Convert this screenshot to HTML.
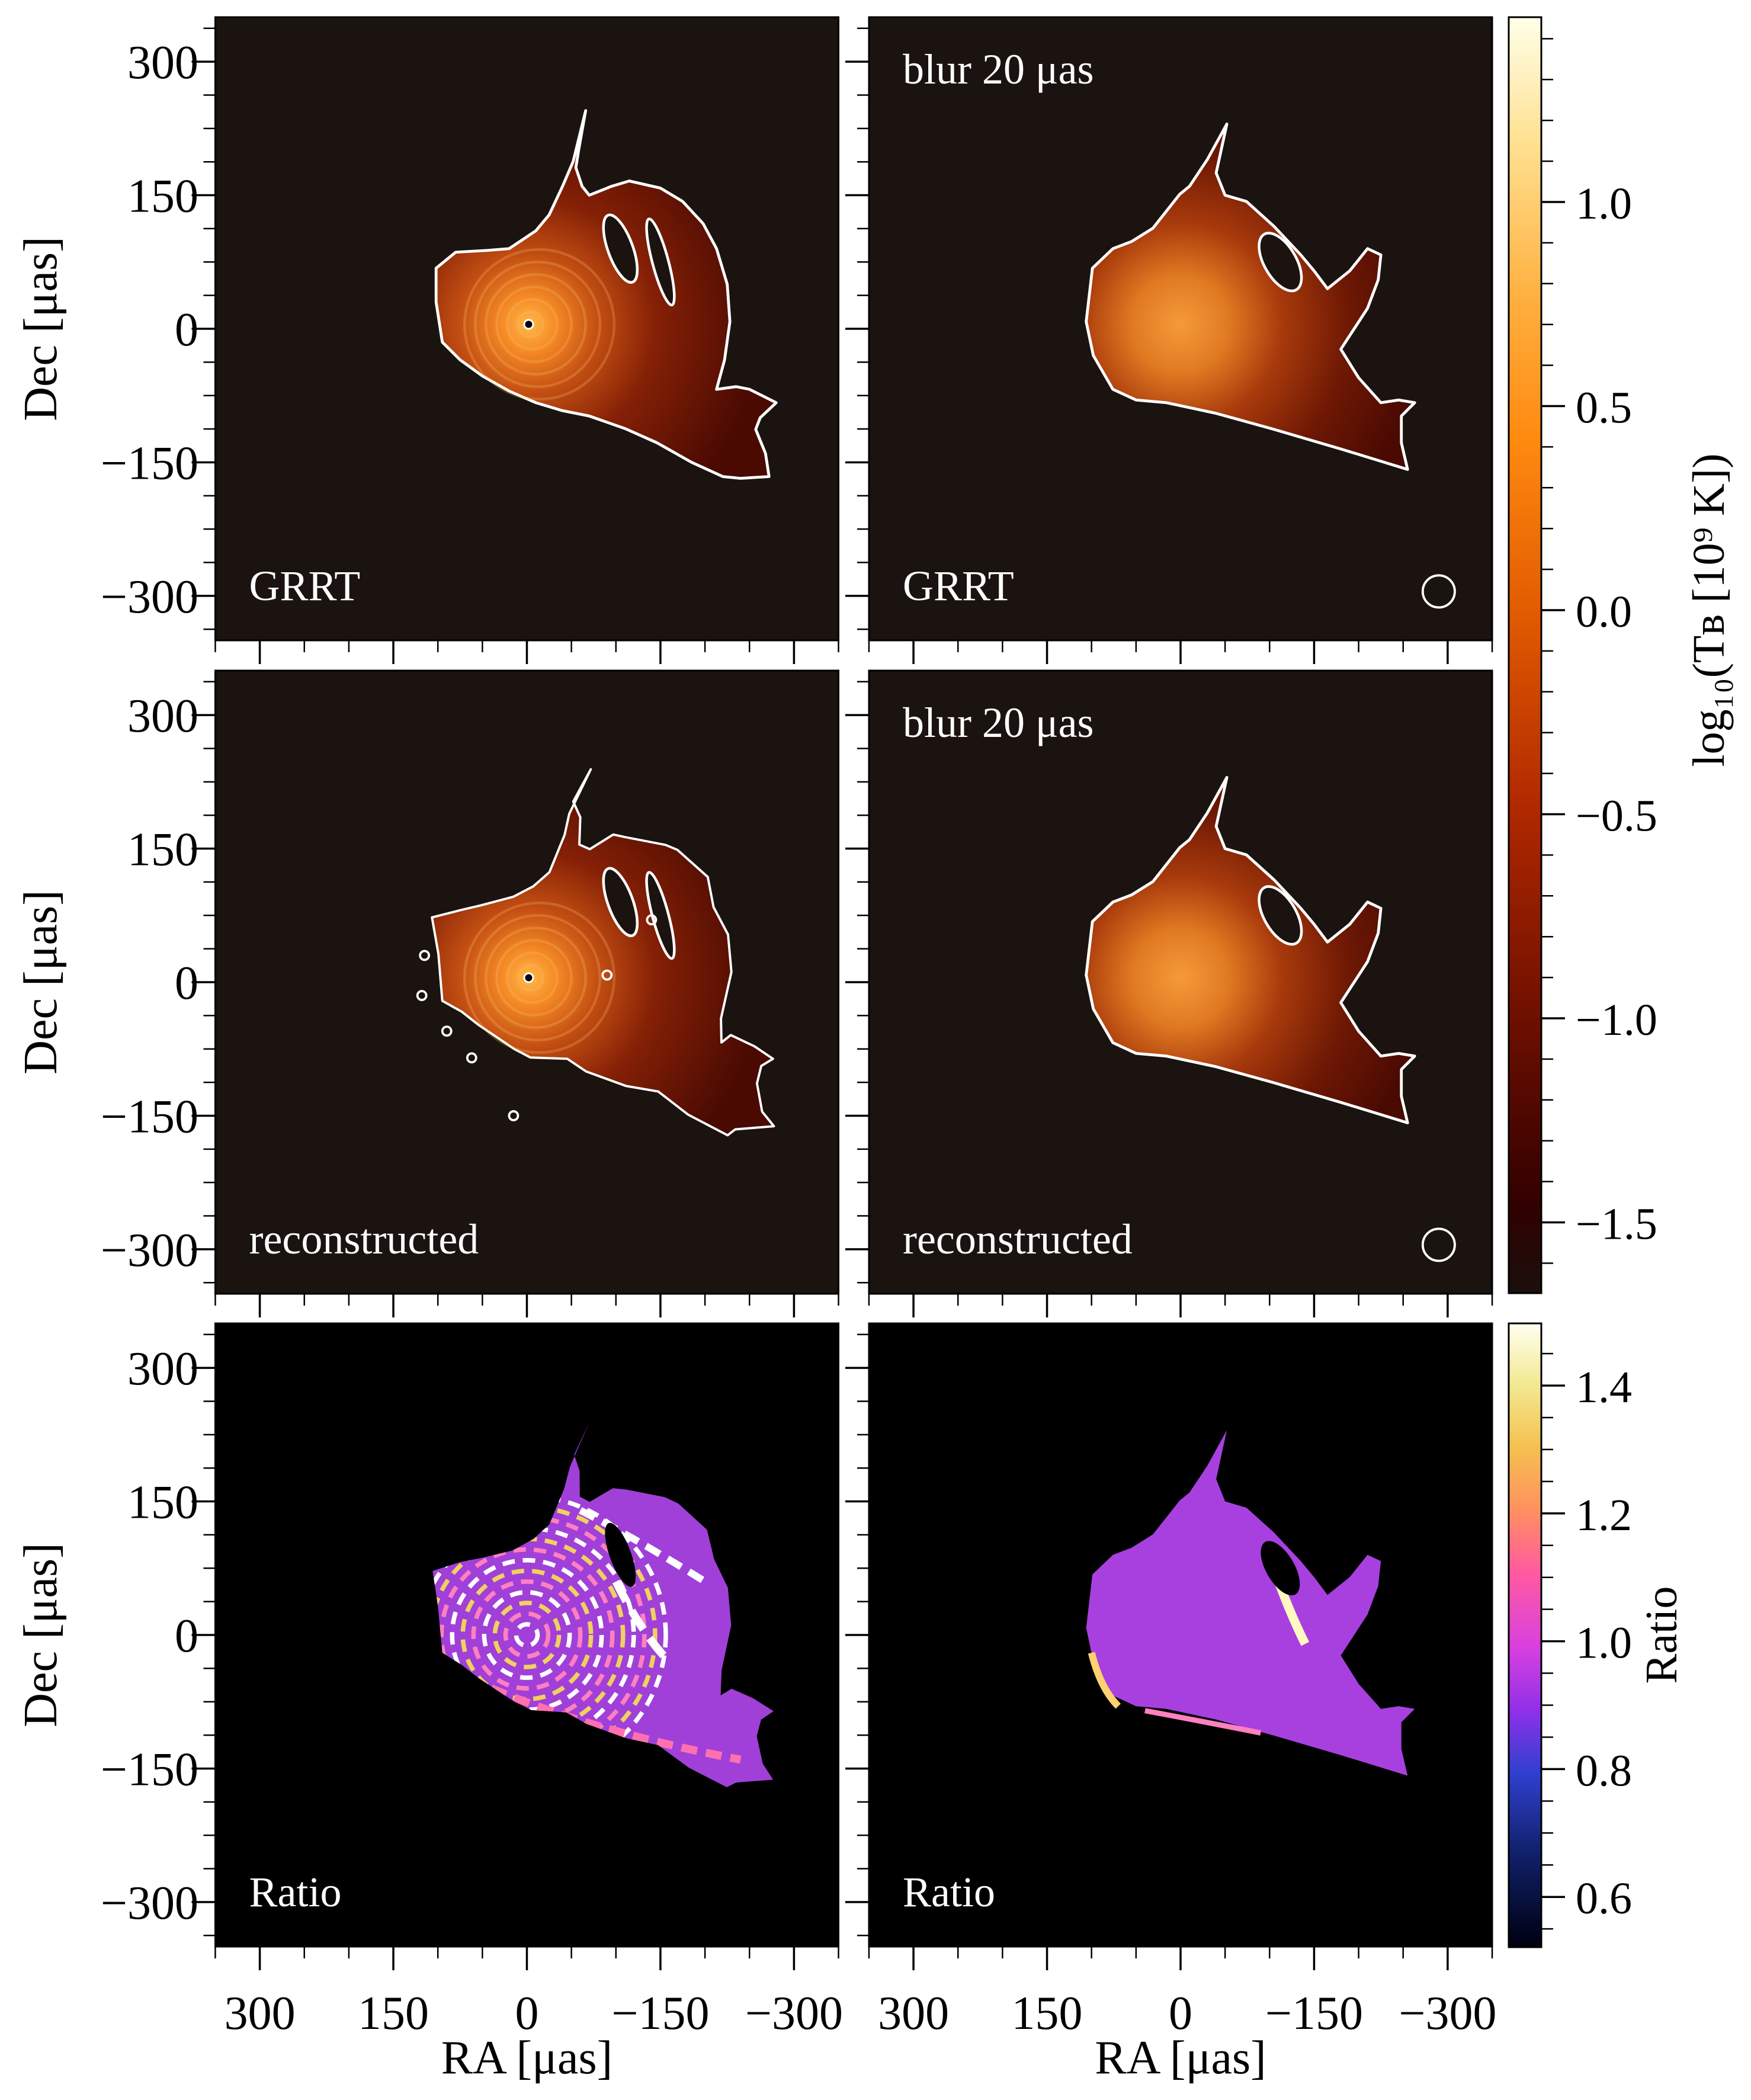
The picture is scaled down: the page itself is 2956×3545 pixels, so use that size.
<!DOCTYPE html>
<html><head><meta charset="utf-8">
<style>
html,body{margin:0;padding:0;background:#fff;}
svg{display:block;}
text{font-family:"Liberation Serif","DejaVu Serif",serif;fill:#000;}
</style></head>
<body>
<svg id="s" width="2956" height="3545" viewBox="0 0 2956 3545" xmlns="http://www.w3.org/2000/svg">
<defs>
<radialGradient id="gA" gradientUnits="userSpaceOnUse" cx="2" cy="-5" r="260">
<stop offset="0" stop-color="#ffb848"/><stop offset="0.12" stop-color="#f58a25"/>
<stop offset="0.3" stop-color="#c24e12"/><stop offset="0.55" stop-color="#842006"/>
<stop offset="1" stop-color="#4a0a02"/></radialGradient>
<radialGradient id="gB" gradientUnits="userSpaceOnUse" cx="0" cy="-5" r="270">
<stop offset="0" stop-color="#f59a3a"/><stop offset="0.2" stop-color="#e07a22"/>
<stop offset="0.42" stop-color="#a83a0c"/><stop offset="0.7" stop-color="#6e1804"/>
<stop offset="1" stop-color="#4a0a02"/></radialGradient>
<linearGradient id="cb1" x1="0" y1="0" x2="0" y2="1">
<stop offset="0" stop-color="#ffffe8"/><stop offset="0.1" stop-color="#ffe090"/>
<stop offset="0.22" stop-color="#ffb040"/><stop offset="0.33" stop-color="#ff8a10"/>
<stop offset="0.47" stop-color="#e05a00"/><stop offset="0.62" stop-color="#b02800"/>
<stop offset="0.78" stop-color="#701000"/><stop offset="0.93" stop-color="#320000"/>
<stop offset="1" stop-color="#1a100c"/></linearGradient>
<linearGradient id="cb2" x1="0" y1="0" x2="0" y2="1">
<stop offset="0" stop-color="#fffff0"/><stop offset="0.1" stop-color="#f2e890"/>
<stop offset="0.2" stop-color="#f5c050"/><stop offset="0.3" stop-color="#ff9060"/>
<stop offset="0.4" stop-color="#ff5aa0"/><stop offset="0.52" stop-color="#d840e0"/>
<stop offset="0.62" stop-color="#9030e8"/><stop offset="0.72" stop-color="#3040d0"/>
<stop offset="0.85" stop-color="#10206a"/><stop offset="1" stop-color="#000010"/></linearGradient>
<clipPath id="pc"><rect x="-350" y="-350" width="700" height="700"/></clipPath>
<clipPath id="cA"><path id="cAp"/></clipPath>
</defs>
<g id="root"></g>
</svg>
<script>
var NS="http://www.w3.org/2000/svg",root=document.getElementById('root');
function el(t,a,p,txt){var e=document.createElementNS(NS,t);for(var k in a)e.setAttribute(k,a[k]);if(txt!==undefined)e.textContent=txt;(p||root).appendChild(e);return e;}
function tx(a,s){return el('text',a,null,s);}
var K=1.503;
var cols=[889.5,1993],rows=[555,1658,2760],P=526;
var A=[[-95,15],[-102,-30],[-102,-68],[-80,-86],[-45,-88],[-20,-90],[10,-110],[25,-128],[40,-160],[52,-188],[66,-245],[58,-200],[55,-181],[62,-160],[70,-150],[95,-160],[115,-166],[150,-158],[175,-143],[198,-118],[213,-90],[225,-50],[228,-8],[222,35],[213,68],[235,65],[250,68],[280,83],[262,100],[257,113],[268,140],[272,166],[240,168],[220,166],[185,150],[146,128],[110,112],[70,98],[40,92],[10,83],[-20,70],[-50,53],[-75,35]];
var B=[[-99,-68],[-106,-8],[-98,30],[-76,68],[-50,80],[-16,83],[40,95],[105,113],[180,135],[255,158],[248,128],[248,98],[263,83],[245,80],[225,83],[200,55],[180,23],[195,0],[210,-23],[222,-55],[225,-83],[210,-90],[190,-65],[165,-45],[150,-65],[135,-83],[105,-115],[74,-143],[50,-150],[40,-175],[52,-230],[30,-190],[10,-160],[-1,-151],[-31,-113],[-55,-98],[-76,-90]];
function pth(pts){return 'M'+pts.map(function(p){return p[0]+','+p[1];}).join(' L')+' Z';}
function jit(pts,a){return pts.map(function(p,i){return [p[0]+a*Math.sin(i*2.7),p[1]+a*Math.cos(i*1.9)];});}
document.getElementById('cAp').setAttribute('d',pth(jit(A,5)));
for(var r=0;r<3;r++)for(var c=0;c<2;c++){
 var cx=cols[c],cy=rows[r];
 var bg=r==2?'#000':'#1a1310';
 el('rect',{x:cx-P,y:cy-P,width:2*P,height:2*P,fill:bg});
 var g=el('g',{transform:'translate('+cx+','+cy+') scale('+K+')','clip-path':'url(#pc)'});
 if(r<2){
  if(c==0){
   var pts=r==0?A:jit(A,6);
   el('path',{d:pth(pts),fill:'url(#gA)',stroke:'#fff','stroke-width':r==0?3.2:2.6,'stroke-linejoin':'round'},g);
   for(var i=1;i<7;i++)el('circle',{cx:2+i*2,cy:-5,r:i*14,fill:'none',stroke:'#ffc070','stroke-opacity':0.25,'stroke-width':3},g);
   el('ellipse',{cx:105,cy:-90,rx:14,ry:40,transform:'rotate(-20 105 -90)',fill:'#1a1310',stroke:'#fff','stroke-width':3},g);
   el('ellipse',{cx:150,cy:-75,rx:9,ry:50,transform:'rotate(-15 150 -75)',fill:'#1a1310',stroke:'#fff','stroke-width':3},g);
   el('circle',{cx:2,cy:-5,r:5,fill:'#000',stroke:'#fff','stroke-width':2},g);
   if(r==1){[[-115,-30],[-118,15],[-90,55],[-62,85],[-15,150],[90,-8],[140,-70]].forEach(function(p){el('circle',{cx:p[0],cy:p[1],r:5,fill:'none',stroke:'#fff','stroke-width':2.5},g);});}
  }else{
   el('path',{d:pth(B),fill:'url(#gB)',stroke:'#fff','stroke-width':3.2,'stroke-linejoin':'round'},g);
   el('ellipse',{cx:112,cy:-75,rx:18,ry:36,transform:'rotate(-30 112 -75)',fill:'#1a1310',stroke:'#fff','stroke-width':3},g);
   el('circle',{cx:290,cy:295,r:18,fill:'none',stroke:'#fff','stroke-width':2.6},g);
  }
 }else{
  if(c==0){
   el('path',{d:pth(jit(A,5)),fill:'#a040d8'},g);
   var gc=el('g',{'clip-path':'url(#cA)'},g);
   for(var i=1;i<14;i++)el('circle',{cx:0,cy:0,r:i*12,fill:'none',stroke:i%3==0?'#f0d060':(i%3==1?'#fff':'#ff80c0'),'stroke-width':5,'stroke-dasharray':'14 9'},gc);
   el('path',{d:'M100,-60 Q130,0 160,30',fill:'none',stroke:'#fff','stroke-width':9,'stroke-dasharray':'25 12'},gc);
   el('path',{d:'M-40,60 Q80,110 240,140',fill:'none',stroke:'#ff70b0','stroke-width':9,'stroke-dasharray':'18 10'},gc);
   el('path',{d:'M60,-140 Q120,-110 200,-60',fill:'none',stroke:'#fff','stroke-width':8,'stroke-dasharray':'18 10'},gc);
   el('ellipse',{cx:105,cy:-90,rx:12,ry:38,transform:'rotate(-20 105 -90)',fill:'#000'},g);
  }else{
   el('path',{d:pth(B),fill:'#a840e0'},g);
   el('path',{d:'M110,-60 Q125,-20 140,10',fill:'none',stroke:'#fff8c0','stroke-width':10},g);
   el('path',{d:'M-100,20 Q-90,60 -70,80',fill:'none',stroke:'#ffd070','stroke-width':8},g);
   el('path',{d:'M-40,85 Q40,100 90,110',fill:'none',stroke:'#ff80c0','stroke-width':6},g);
   el('ellipse',{cx:112,cy:-75,rx:16,ry:34,transform:'rotate(-30 112 -75)',fill:'#000'},g);
  }
 }
 el('rect',{x:cx-P,y:cy-P,width:2*P,height:2*P,fill:'none',stroke:'#000','stroke-width':3});
 for(var v=-350;v<=350;v+=50){var x=cx+v*K,maj=(v%150==0);el('line',{x1:x,y1:cy+P,x2:x,y2:cy+P+(maj?40:20),stroke:'#000','stroke-width':maj?3.5:2.5});
  if(maj&&r==2)tx({x:x,y:3425,'font-size':80,'text-anchor':'middle'},v==0?'0':(v>0?'\u2212':'')+Math.abs(v));}
 for(var j=-9;j<=9;j++){var v=j*37.5,y=cy-v*K;if(Math.abs(v)>350)continue;var maj=(j%4==0);el('line',{x1:cx-P,y1:y,x2:cx-P-(maj?40:20),y2:y,stroke:'#000','stroke-width':maj?3.5:2.5});
  if(maj&&c==0)tx({x:335,y:y+28,'font-size':80,'text-anchor':'end'},v==0?'0':(v<0?'\u2212':'')+Math.abs(v));}
 if(c==0)tx({x:95,y:cy,'font-size':80,'text-anchor':'middle',transform:'rotate(-90 95 '+cy+')'},'Dec [\u03bcas]');
 var lab=r==0?'GRRT':(r==1?'reconstructed':'Ratio');
 tx({x:cx-P+57,y:cy+P-68,'font-size':72,style:'fill:#fff'},lab);
 if(c==1&&r<2)tx({x:cx-P+57,y:cy-P+112,'font-size':72,style:'fill:#fff'},'blur 20 \u03bcas');
}
tx({x:889.5,y:3500,'font-size':80,'text-anchor':'middle'},'RA [\u03bcas]');
tx({x:1993,y:3500,'font-size':80,'text-anchor':'middle'},'RA [\u03bcas]');
var bx=2547,bw=55;
el('rect',{x:bx,y:29,width:bw,height:2154,fill:'url(#cb1)',stroke:'#000','stroke-width':3});
el('rect',{x:bx,y:2234,width:bw,height:1053,fill:'url(#cb2)',stroke:'#000','stroke-width':3});
for(var i=-16;i<=14;i++){var v=i/10,y=1030-v*689,maj=(i%5==0);el('line',{x1:bx+bw,y1:y,x2:bx+bw+(maj?40:20),y2:y,stroke:'#000','stroke-width':maj?3.5:2.5});
 if(maj)tx({x:2660,y:y+28,'font-size':76},(v<0?'\u2212':'')+Math.abs(v).toFixed(1));}
for(var i=11;i<=29;i++){var v=i/20,y=2339-(v-1.4)*1079,maj=(i%4==0);el('line',{x1:bx+bw,y1:y,x2:bx+bw+(maj?40:20),y2:y,stroke:'#000','stroke-width':maj?3.5:2.5});
 if(maj)tx({x:2660,y:y+28,'font-size':76},v.toFixed(1));}
tx({x:2910,y:1030,'font-size':76,'text-anchor':'middle',transform:'rotate(-90 2910 1030)'},'log\u2081\u2080(T\u0299 [10\u2079 K])');
tx({x:2830,y:2760,'font-size':76,'text-anchor':'middle',transform:'rotate(-90 2830 2760)'},'Ratio');
</script>
</body></html>
